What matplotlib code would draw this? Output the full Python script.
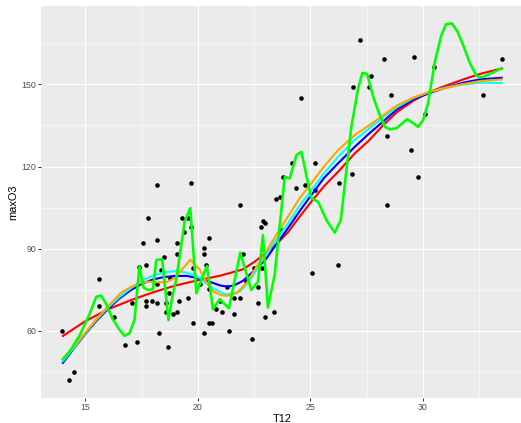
import numpy as np
import matplotlib
matplotlib.use('Agg')
import matplotlib.pyplot as plt
from matplotlib.ticker import MultipleLocator

# ozone: maxO3 against T12
t12 = [13.96, 14.27, 14.48, 15.59, 15.59, 16.29, 16.78, 17.09, 17.29, 17.36,
       17.58, 17.68, 17.67, 17.67, 17.77, 17.94, 18.17, 18.17, 18.17, 18.17,
       18.29, 18.36, 18.49, 18.59, 18.59, 18.68, 18.71, 18.78, 18.89, 19.08,
       19.08, 19.09, 19.18, 19.29, 19.37, 19.54, 19.57, 19.69, 19.69, 19.78,
       19.78, 20.07, 20.28, 20.28, 20.28, 20.37, 20.49, 20.49, 20.49, 20.61,
       20.79, 21.0, 21.08, 21.29, 21.38, 21.59, 21.59, 21.88, 21.88, 22.0,
       22.15, 22.39, 22.48, 22.68, 22.68, 22.79, 22.86, 22.89, 22.98, 22.98,
       23.38, 23.49, 23.63, 23.66, 23.78, 24.17, 24.38, 24.58, 24.78, 25.09,
       25.19, 25.19, 26.21, 26.29, 26.87, 26.9, 27.19, 27.59, 27.68, 28.28,
       28.4, 28.4, 28.59, 29.49, 29.6, 29.79, 30.1, 30.5, 32.68, 33.5]
maxo3 = [60.1, 42.1, 45.0, 79.1, 69.1, 65.0, 55.0, 70.1, 56.1, 83.2,
         92.1, 84.1, 71.1, 69.1, 101.1, 71.1, 113.2, 93.2, 70.1, 77.2,
         59.2, 82.3, 87.1, 70.1, 67.0, 54.0, 74.0, 79.2, 66.2, 92.1,
         88.1, 67.0, 71.1, 101.1, 96.2, 71.9, 101.1, 114.1, 98.1, 83.1,
         63.0, 77.2, 90.2, 88.1, 59.2, 84.1, 94.1, 75.2, 63.0, 63.0,
         67.9, 71.1, 67.0, 76.2, 60.1, 71.9, 66.2, 106.1, 71.9, 88.1,
         78.1, 57.1, 83.1, 76.2, 70.1, 98.1, 83.1, 100.1, 99.3, 65.0,
         67.0, 108.1, 97.1, 109.0, 116.1, 121.2, 112.1, 145.0, 113.3, 81.1,
         121.2, 111.5, 84.1, 114.1, 117.2, 149.2, 166.2, 149.2, 153.2, 159.2,
         131.2, 106.1, 146.1, 126.1, 160.1, 116.1, 139.1, 156.2, 146.1, 159.2]

# smoothers
red_x = [14.0, 15.0, 16.0, 17.0, 18.0, 19.0, 20.0, 21.0, 22.0, 22.52, 23.0, 23.5,
         24.0, 24.5, 25.04, 25.6, 26.23, 26.97, 27.6, 28.2, 28.83, 29.57, 30.31,
         31.05, 31.79, 32.53, 33.5]
red_y = [58.2, 63.6, 67.9, 71.2, 74.1, 76.6, 78.5, 80.2, 82.5, 85.3, 88.3, 91.8,
         96.0, 101.5, 107.2, 112.8, 118.1, 124.8, 129.5, 134.8, 139.8, 144.0, 147.3,
         149.6, 151.8, 153.8, 155.8]

blue_x = [14.0, 14.5, 15.0, 15.5, 16.0, 16.5, 17.0, 17.5, 18.0, 18.5, 19.0, 19.5,
          20.0, 20.5, 21.0, 21.3, 21.6, 22.0, 22.5, 23.0, 23.5, 24.0, 24.5, 25.04,
          25.6, 26.23, 26.97, 27.6, 28.2, 28.83, 29.57, 30.31, 31.05, 31.79, 32.53, 33.5]
blue_y = [48.4, 53.8, 59.0, 63.8, 68.0, 71.8, 74.8, 77.2, 78.8, 79.7, 80.1, 80.1,
          79.3, 78.0, 76.6, 76.2, 76.6, 78.3, 82.0, 86.0, 91.8, 97.5, 103.5, 109.6,
          115.8, 121.2, 127.2, 132.0, 136.2, 140.8, 144.5, 146.9, 148.9, 150.6, 151.8, 152.4]

cyan_x = [14.0, 14.5, 15.0, 15.5, 16.0, 16.5, 17.0, 17.5, 18.0, 18.5, 19.04, 19.5,
          20.07, 20.67, 21.26, 21.85, 22.37, 22.74, 23.0, 23.5, 24.0, 24.5, 25.04,
          25.6, 26.23, 26.97, 27.6, 28.2, 28.83, 29.57, 30.31, 31.05, 31.79, 32.53, 33.5]
cyan_y = [49.0, 54.0, 59.3, 64.2, 68.5, 72.3, 75.5, 78.3, 80.2, 81.4, 81.9, 81.3,
          79.4, 75.5, 73.3, 74.3, 79.2, 84.3, 87.5, 93.5, 99.3, 105.5, 111.4,
          117.5, 123.6, 129.7, 133.8, 137.8, 141.6, 145.0, 147.3, 148.9, 150.0, 150.6, 150.5]

orange_x = [14.0, 14.5, 15.0, 15.5, 16.0, 16.59, 17.0, 17.4, 17.8, 18.2, 18.6, 19.0,
            19.3, 19.66, 20.07, 20.4, 20.67, 21.0, 21.26, 21.71, 22.15, 22.52, 23.0,
            23.5, 24.0, 24.5, 25.04, 25.6, 26.23, 26.97, 27.6, 28.2, 28.83, 29.57,
            30.31, 31.05, 31.79, 32.53, 33.5]
orange_y = [50.0, 54.5, 59.5, 64.5, 69.0, 74.0, 76.0, 77.4, 78.0, 77.8, 77.8, 79.5,
            82.5, 86.0, 82.5, 77.5, 74.5, 73.2, 72.8, 73.8, 77.4, 82.3, 88.5,
            95.3, 101.7, 108.2, 113.9, 120.0, 126.0, 131.5, 135.0, 138.5, 142.2, 145.2,
            147.3, 148.7, 150.1, 151.2, 151.8]

green_x = [14.0, 14.3, 14.75, 15.2, 15.48, 15.7, 15.95, 16.2, 16.51, 16.74, 16.96, 17.18,
           17.4, 17.58, 17.77, 18.0, 18.15, 18.41, 18.69, 18.89, 19.04, 19.41, 19.66,
           19.93, 20.12, 20.4, 20.67, 20.96, 21.38, 21.88, 22.37, 22.67, 22.89, 23.11,
           23.41, 23.63, 23.86, 24.08, 24.38, 24.6, 25.04, 25.34, 25.71, 26.08, 26.35,
           26.6, 26.82, 27.12, 27.31, 27.52, 27.79, 28.08, 28.31, 28.53, 28.83, 29.3,
           29.54, 29.79, 30.01, 30.23, 30.53, 30.8, 31.02, 31.28, 31.54, 31.79, 32.09,
           32.39, 32.65, 32.98, 33.28, 33.5]
green_y = [49.7, 52.5, 58.5, 66.5, 72.5, 72.9, 69.5, 64.5, 60.5, 58.2, 59.2, 64.0,
           83.5, 75.9, 75.0, 75.2, 85.9, 86.2, 64.0, 73.8, 78.9, 99.9, 104.8,
           73.8, 78.0, 83.7, 67.9, 71.6, 68.3, 88.6, 75.0, 78.0, 95.0, 68.6,
           80.4, 98.0, 116.3, 115.7, 124.2, 125.4, 108.4, 107.2, 100.5, 95.9, 100.5,
           118.7, 134.5, 148.5, 154.2, 153.8, 145.5, 138.8, 134.5, 133.6, 134.0, 137.3,
           136.0, 134.5, 137.0, 143.1, 158.2, 167.4, 171.9, 172.3, 169.2, 164.3, 157.7,
           153.0, 152.6, 153.8, 155.0, 155.8]

W, H = 521, 423
plt.rcParams['font.family'] = ['Liberation Sans', 'DejaVu Sans']
fig = plt.figure(figsize=(W / 72, H / 72), dpi=72)
ax = fig.add_axes([41 / W, 25 / H, 482.6 / W, 392 / H])
ax.set_facecolor('#EBEBEB')
for s in ax.spines.values():
    s.set_visible(False)

ax.set_xlim(13.025, 34.475)
ax.set_ylim(35.55, 178.6)
ax.xaxis.set_major_locator(MultipleLocator(5))
ax.xaxis.set_minor_locator(MultipleLocator(2.5))
ax.yaxis.set_major_locator(MultipleLocator(30))
ax.yaxis.set_minor_locator(MultipleLocator(15))
ax.grid(which='major', color='white', linewidth=1.1)
ax.grid(which='minor', color='white', linewidth=0.55)
ax.set_axisbelow(True)
ax.tick_params(which='major', length=2.75, width=1.0, color='#333333',
               labelcolor='#4D4D4D', labelsize=8.8, pad=2.2)
ax.tick_params(which='minor', length=0)

ax.scatter(t12, maxo3, s=21, color='black', linewidths=0, zorder=2)
ax.plot(red_x, red_y, color='red', lw=2.1, zorder=3)
ax.plot(blue_x, blue_y, color='blue', lw=2.1, zorder=3)
ax.plot(cyan_x, cyan_y, color='cyan', lw=2.1, zorder=3)
ax.plot(orange_x, orange_y, color='orange', lw=2.1, zorder=3)
ax.plot(green_x, green_y, color='#00FF00', lw=2.6, zorder=4)

fig.text(282.3 / W, 1 - 419 / H, 'T12', ha='center', va='center', fontsize=11)
fig.text(13.5 / W, 1 - 202 / H, 'maxO3', ha='center', va='center',
         rotation=90, fontsize=11)

fig.savefig('out.png', dpi=72)
